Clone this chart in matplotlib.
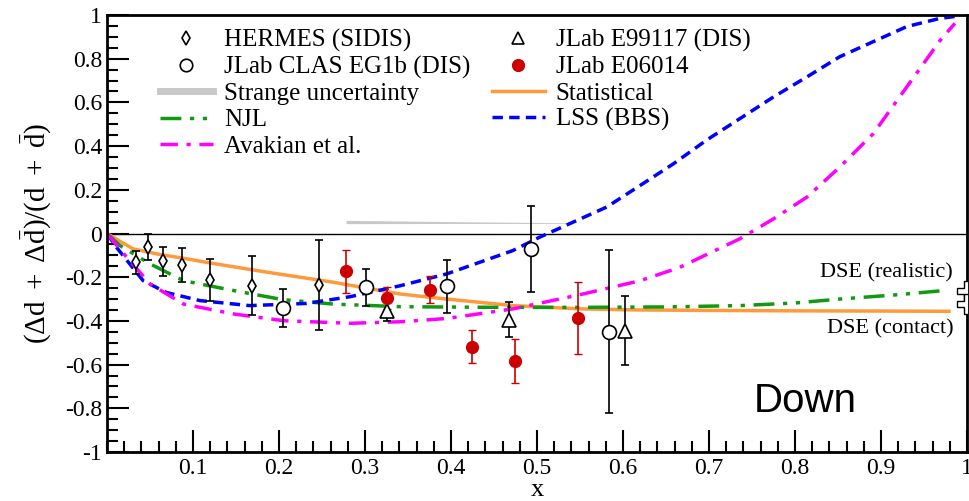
import matplotlib
matplotlib.use("Agg")
from matplotlib import pyplot as plt
from matplotlib.lines import Line2D
import numpy as np

plt.rcParams["font.family"] = ["Liberation Serif", "DejaVu Serif"]
plt.rcParams["mathtext.fontset"] = "custom"
plt.rcParams["mathtext.rm"] = "Liberation Serif"
plt.rcParams["mathtext.it"] = "Liberation Serif:italic"

# Data points (x, value, error)
hermes_x = [0.034, 0.048, 0.065, 0.087, 0.120, 0.169, 0.246]
hermes_y = [-0.132, -0.063, -0.128, -0.143, -0.212, -0.238, -0.236]
hermes_e = [0.053, 0.059, 0.066, 0.077, 0.096, 0.133, 0.207]

clas_x = [0.205, 0.301, 0.395, 0.493, 0.584]
clas_y = [-0.341, -0.246, -0.242, -0.073, -0.450]
clas_e = [0.087, 0.084, 0.122, 0.197, 0.373]

e99117_x = [0.326, 0.467, 0.602]
e99117_y = [-0.356, -0.394, -0.445]
e99117_e = [0.045, 0.080, 0.159]

e06014_x = [0.2775, 0.326, 0.375, 0.424, 0.474, 0.548]
e06014_y = [-0.173, -0.295, -0.257, -0.518, -0.583, -0.387]
e06014_e = [0.098, 0.050, 0.061, 0.076, 0.099, 0.165]

# Model curves
stat_x = [0, 0.03, 0.06, 0.09, 0.12, 0.186, 0.263, 0.341, 0.395, 0.472, 0.55, 0.62, 0.70, 0.80, 0.90, 0.979]
stat_y = [0, -0.07, -0.095, -0.114, -0.135, -0.177, -0.223, -0.277, -0.30, -0.33, -0.345, -0.35, -0.352, -0.354, -0.355, -0.356]

njl_x = [0, 0.015, 0.05, 0.089, 0.147, 0.205, 0.263, 0.341, 0.45, 0.55, 0.65, 0.736, 0.80, 0.852, 0.92, 0.976]
njl_y = [0, -0.055, -0.139, -0.216, -0.261, -0.303, -0.323, -0.335, -0.338, -0.338, -0.336, -0.33, -0.318, -0.30, -0.28, -0.26]

lss_x = [0, 0.011, 0.042, 0.069, 0.108, 0.166, 0.232, 0.283, 0.341, 0.395, 0.472, 0.503, 0.542,
         0.581, 0.620, 0.659, 0.697, 0.736, 0.775, 0.814, 0.852, 0.891, 0.930, 0.969, 0.99]
lss_y = [0, -0.063, -0.216, -0.27, -0.307, -0.33, -0.32, -0.289, -0.239, -0.185, -0.078, -0.017, 0.052,
         0.121, 0.220, 0.320, 0.427, 0.526, 0.625, 0.717, 0.809, 0.878, 0.947, 0.985, 0.995]

avak_x = [0, 0.023, 0.05, 0.089, 0.147, 0.205, 0.283, 0.341, 0.395, 0.472, 0.55, 0.62, 0.666,
          0.70, 0.736, 0.775, 0.814, 0.852, 0.891, 0.930, 0.969, 0.986]
avak_y = [0, -0.109, -0.231, -0.323, -0.368, -0.399, -0.411, -0.404, -0.389, -0.345, -0.28, -0.216, -0.155,
          -0.091, -0.024, 0.067, 0.167, 0.304, 0.457, 0.671, 0.885, 0.962]

strange_x = [0.278, 0.41, 0.542]
strange_lo = [0.045, 0.046, 0.046]
strange_hi = [0.060, 0.054, 0.049]

dse_x = [1.0, 1.0]
dse_y = [-0.261, -0.323]

fig = plt.figure(figsize=(9.69, 5.01), dpi=100)
ax = fig.add_axes([107 / 969, 49 / 501, 860 / 969, 437 / 501])

ax.axhline(0, color="black", lw=1.0, zorder=1)
ax.fill_between(strange_x, strange_lo, strange_hi, color="#c8c8c8", lw=0, zorder=1)

orange = "#ff9a3c"
green = "#119a11"
blue = "#0000ff"
magenta = "#ff00ff"
red = "#cc0000"

ax.plot(stat_x, stat_y, color=orange, lw=2.5, zorder=2)
ax.plot(njl_x, njl_y, color=green, lw=2.5, dashes=(6, 2.5, 1.2, 2.5, 1.2, 2.5), zorder=2)
ax.plot(lss_x, lss_y, color=blue, lw=2.5, dashes=(3, 1.8), zorder=2)
ax.plot(avak_x, avak_y, color=magenta, lw=2.5, dashes=(5, 2.5, 1.2, 2.5), zorder=2)

ax.errorbar(hermes_x, hermes_y, yerr=hermes_e, fmt="d", ms=7.5, mfc="white", mec="black", mew=1.2,
            ecolor="black", elinewidth=1.2, capsize=3, zorder=4)
ax.errorbar(clas_x, clas_y, yerr=clas_e, fmt="o", ms=10, mfc="white", mec="black", mew=1.2,
            ecolor="black", elinewidth=1.2, capsize=3, zorder=4)
ax.errorbar(e99117_x, e99117_y, yerr=e99117_e, fmt="^", ms=10, mfc="white", mec="black", mew=1.2,
            ecolor="black", elinewidth=1.2, capsize=3, zorder=4)
ax.errorbar(e06014_x, e06014_y, yerr=e06014_e, fmt="o", ms=8.5, mfc=red, mec=red,
            ecolor=red, elinewidth=1.2, capsize=3, zorder=4)

ax.plot(dse_x, dse_y, "P", ms=14, mfc="white", mec="black", mew=1.0, zorder=5)

ax.text(0.984, -0.182, "DSE (realistic)", ha="right", va="center", fontsize=16)
ax.text(0.984, -0.436, "DSE (contact)", ha="right", va="center", fontsize=16)
ax.text(0.812, -0.766, "Down", ha="center", va="center", fontsize=29, family="Liberation Sans")

ax.set_xlim(0, 1)
ax.set_ylim(-1, 1)
ax.set_xticks(np.arange(0.1, 1.01, 0.1))
ax.set_xticklabels(["0.1", "0.2", "0.3", "0.4", "0.5", "0.6", "0.7", "0.8", "0.9", "1"])
ax.set_xticks(np.arange(0, 1.001, 0.02), minor=True)
ax.set_yticks(np.arange(-1, 1.01, 0.2))
ax.set_yticklabels(["-1", "-0.8", "-0.6", "-0.4", "-0.2", "0", "0.2", "0.4", "0.6", "0.8", "1"])
ax.set_yticks(np.arange(-1, 1.001, 0.05), minor=True)
ax.tick_params(which="both", direction="in", top=False, right=False, width=1.5, labelsize=17)
ax.tick_params(which="major", length=16)
ax.tick_params(which="minor", length=8)
ax.tick_params(axis="x", pad=4)
for s in ax.spines.values():
    s.set_linewidth(2)

ax.set_xlabel("x", fontsize=19, labelpad=0)
ax.set_ylabel(r"$\mathrm{(\Delta d\ +\ \Delta\bar{d})/(d\ +\ \bar{d})}$", fontsize=21, labelpad=8)

# Legend, two blocks
h1 = [
    Line2D([], [], ls="none", marker="d", ms=7, mfc="white", mec="black", mew=1.2),
    Line2D([], [], ls="none", marker="o", ms=9, mfc="white", mec="black", mew=1.2),
    Line2D([], [], color="#c8c8c8", lw=5),
    Line2D([], [], color=green, lw=2.5, dashes=(6, 2.5, 1.2, 2.5, 1.2, 2.5)),
    Line2D([], [], color=magenta, lw=2.5, dashes=(5, 2.5, 1.2, 2.5)),
]
l1 = ["HERMES (SIDIS)", "JLab CLAS EG1b (DIS)", "Strange uncertainty", "NJL", "Avakian et al."]
h2 = [
    Line2D([], [], ls="none", marker="^", ms=9, mfc="white", mec="black", mew=1.2),
    Line2D([], [], ls="none", marker="o", ms=8.5, mfc=red, mec=red),
    Line2D([], [], color=orange, lw=2.5),
    Line2D([], [], color=blue, lw=2.5, dashes=(3, 1.8)),
]
l2 = ["JLab E99117 (DIS)", "JLab E06014", "Statistical", "LSS (BBS)"]

leg1 = ax.legend(h1, l1, loc="upper left", bbox_to_anchor=(160 / 969, 1 - 29 / 501),
                 bbox_transform=fig.transFigure, frameon=False, fontsize=18, borderpad=0,
                 borderaxespad=0, handlelength=2.1, handletextpad=0.45, labelspacing=0.15)
ax.add_artist(leg1)
ax.legend(h2, l2, loc="upper left", bbox_to_anchor=(492 / 969, 1 - 29 / 501),
          bbox_transform=fig.transFigure, frameon=False, fontsize=18, borderpad=0,
          borderaxespad=0, handlelength=2.1, handletextpad=0.45, labelspacing=0.15)

fig.savefig("out.png", dpi=100)
